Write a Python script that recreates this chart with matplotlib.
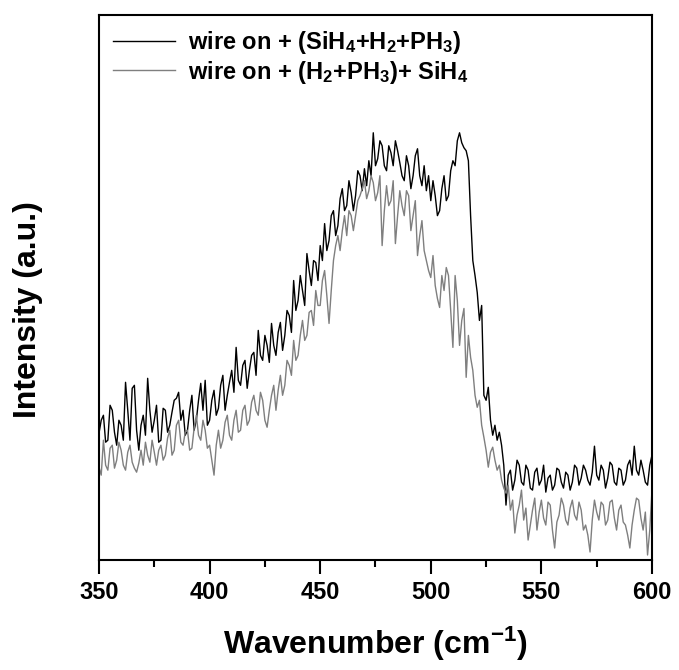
import numpy as np
import matplotlib.pyplot as plt

plt.rcParams["font.family"] = ["Liberation Sans", "DejaVu Sans"]
plt.rcParams["font.weight"] = "bold"
plt.rcParams["mathtext.fontset"] = "custom"
plt.rcParams["mathtext.rm"] = "Liberation Sans:bold"
plt.rcParams["mathtext.it"] = "Liberation Sans:bold"
plt.rcParams["mathtext.bf"] = "Liberation Sans:bold"
plt.rcParams["mathtext.default"] = "rm"

# Raman spectra (arbitrary intensity units), 1 cm-1 grid
wavenumber = np.arange(350, 601)

wire_mix = [
    127, 140, 145, 118, 120, 155, 150, 128, 115, 140,  # 350
    135, 120, 178, 150, 120, 172, 175, 130, 110, 135,  # 360
    145, 125, 182, 150, 128, 140, 155, 118, 120, 152,  # 370
    150, 128, 135, 148, 160, 162, 168, 140, 150, 125,  # 380
    130, 150, 165, 130, 140, 160, 177, 150, 180, 135,  # 390
    140, 160, 170, 145, 152, 175, 185, 150, 165, 178,  # 400
    190, 168, 213, 180, 175, 195, 200, 172, 190, 205,  # 410
    208, 185, 230, 205, 200, 225, 215, 198, 237, 215,  # 420
    205, 228, 238, 210, 225, 250, 245, 228, 280, 250,  # 430
    260, 285, 270, 255, 307, 290, 275, 300, 298, 280,  # 440
    315, 300, 337, 310, 320, 345, 350, 325, 335, 362,  # 450
    372, 350, 355, 380, 368, 350, 365, 390, 385, 370,  # 460
    392, 375, 400, 385, 428, 395, 402, 420, 415, 395,  # 470
    390, 415, 408, 395, 420, 410, 398, 385, 380, 405,  # 480
    395, 372, 385, 405, 412, 385, 375, 395, 370, 385,  # 490
    360, 380, 365, 345, 350, 372, 385, 360, 365, 390,  # 500
    400, 395, 420, 428, 418, 413, 410, 400, 345, 300,  # 510
    285, 268, 240, 255, 165, 160, 173, 140, 125, 135,  # 520
    120, 128, 115, 95, 55, 85, 90, 70, 80, 100,  # 530
    95, 78, 75, 95, 90, 72, 70, 88, 92, 75,  # 540
    80, 95, 68, 82, 85, 70, 75, 92, 90, 78,  # 550
    72, 88, 85, 70, 78, 95, 92, 75, 82, 95,  # 560
    90, 80, 75, 88, 114, 85, 80, 95, 90, 72,  # 570
    82, 98, 95, 78, 75, 92, 90, 75, 80, 95,  # 580
    100, 85, 114, 90, 85, 100, 90, 78, 75, 95, 105,  # 590
]

wire_seq = [
    93, 85, 120, 95, 90, 112, 115, 92, 100, 118,  # 350
    110, 95, 90, 108, 115, 98, 92, 88, 97, 110,  # 360
    95, 118, 105, 98, 120, 108, 95, 110, 115, 100,  # 370
    105, 122, 130, 105, 110, 135, 140, 118, 115, 128,  # 380
    130, 110, 112, 132, 145, 125, 120, 140, 130, 112,  # 390
    115, 100, 85, 115, 130, 112, 120, 138, 145, 125,  # 400
    120, 140, 150, 128, 130, 150, 155, 135, 140, 158,  # 410
    165, 150, 145, 168, 160, 140, 133, 150, 165, 175,  # 420
    150, 170, 185, 165, 175, 200, 195, 185, 220, 200,  # 430
    205, 225, 240, 220, 225, 248, 250, 235, 270, 255,  # 440
    255, 280, 290, 265, 237, 270, 300, 315, 325, 310,  # 450
    330, 345, 325, 350, 345, 330, 345, 360, 365, 372,  # 460
    380, 362, 370, 385, 378, 360, 368, 385, 315, 350,  # 470
    375, 355, 360, 380, 317, 345, 370, 355, 345, 370,  # 480
    365, 330, 345, 360, 305, 325, 340, 310, 300, 290,  # 490
    283, 305, 275, 262, 253, 285, 270, 293, 285, 250,  # 500
    213, 285, 260, 215, 240, 252, 183, 225, 203, 190,  # 510
    165, 153, 160, 135, 123, 110, 93, 108, 113, 100,  # 520
    90, 95, 80, 72, 67, 75, 50, 60, 27, 45,  # 530
    55, 70, 40, 52, 20, 35, 50, 62, 30, 48,  # 540
    60, 42, 35, 58, 55, 30, 12, 38, 45, 62,  # 550
    55, 40, 35, 52, 60, 45, 40, 58, 50, 30,  # 560
    35, 25, 8, 40, 60, 48, 40, 58, 55, 35,  # 570
    40, 58, 60, 42, 30, 50, 55, 38, 35, 25,  # 580
    12, 35, 50, 62, 60, 42, 30, 48, 5, 30, 70,  # 590
]

labels = [
    "wire on + (SiH$_4$+H$_2$+PH$_3$)",
    "wire on + (H$_2$+PH$_3$)+ SiH$_4$",
]

fig = plt.figure(figsize=(6.79, 6.70), dpi=100)
ax = fig.add_axes([0.1458, 0.1642, 0.8144, 0.8134])

ax.plot(wavenumber, wire_mix, color="black", lw=1.0, label=labels[0])
ax.plot(wavenumber, wire_seq, color="#7f7f7f", lw=1.0, label=labels[1])

ax.set_xlim(350, 600)
ax.set_ylim(0, 546)
ax.set_xticks(np.arange(350, 601, 50))
ax.set_xticks(np.arange(375, 600, 50), minor=True)
ax.set_yticks([])
ax.tick_params(axis="x", which="major", direction="out", length=10, width=1.5,
               labelsize=17, pad=5)
ax.tick_params(axis="x", which="minor", direction="out", length=5, width=1.5)
for sp in ax.spines.values():
    sp.set_linewidth(1.5)

ax.set_xlabel("Wavenumber (cm$^{-1}$)", fontsize=23, fontweight="bold")
ax.xaxis.set_label_coords(0.5, -0.118)
ax.set_ylabel("Intensity (a.u.)", fontsize=23, fontweight="bold", va="center")
ax.yaxis.set_label_coords(-0.128, 0.459)

ax.legend(loc="upper left", frameon=False, fontsize=17, handlelength=2.6,
          handletextpad=0.55, borderpad=0.2, borderaxespad=0.4,
          labelspacing=0.1)

fig.savefig("out.png", dpi=100)
